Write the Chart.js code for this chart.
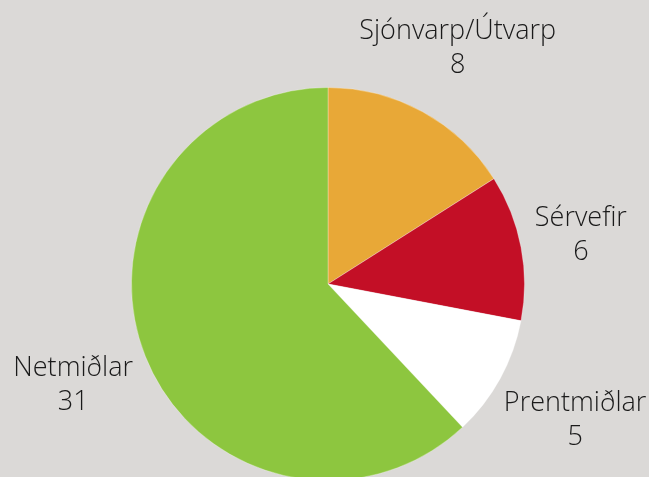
<!DOCTYPE html>
<html>
<head>
<meta charset="utf-8">
<script src="https://cdn.jsdelivr.net/npm/chart.js@4"></script>
<style>
  html, body { margin: 0; padding: 0; background: #dbd9d7; overflow: hidden; }
  #wrap { width: 649px; height: 477px; overflow: hidden; }
</style>
</head>
<body>
<div id="wrap">
  <canvas id="pie" width="649" height="568"></canvas>
</div>
<script>
// pie data
const labels = ['Sjónvarp/Útvarp', 'Sérvefir', 'Prentmiðlar', 'Netmiðlar'];
const values = [8, 6, 5, 31];
const colors = ['#e8a837', '#c30f26', '#ffffff', '#8dc63f'];

// draws "name / value" outside each slice, pushed out along the slice's mid angle
const outsideLabels = {
  id: 'outsideLabels',
  afterDatasetsDraw(chart, args, opts) {
    const ctx = chart.ctx;
    const meta = chart.getDatasetMeta(0);
    ctx.save();
    ctx.font = '300 27px "Open Sans"';
    ctx.fillStyle = '#1a1a1a';
    ctx.textAlign = 'center';
    ctx.textBaseline = 'middle';
    meta.data.forEach((arc, i) => {
      const mid = (arc.startAngle + arc.endAngle) / 2;
      const r = arc.outerRadius * opts.reach[i];
      const x = arc.x + Math.cos(mid) * r;
      const y = arc.y + Math.sin(mid) * r;
      ctx.fillText(labels[i], x, y - 17);
      ctx.fillText(String(values[i]), x, y + 17);
    });
    ctx.restore();
  }
};

new Chart(document.getElementById('pie'), {
  type: 'pie',
  data: {
    labels: labels,
    datasets: [{
      data: values,
      backgroundColor: colors,
      borderColor: 'rgba(255,255,255,0.3)',
      borderWidth: 1
    }]
  },
  options: {
    responsive: false,
    animation: false,
    devicePixelRatio: 1,
    layout: { padding: { left: 131, right: 124, top: 87, bottom: 87 } },
    plugins: {
      legend: { display: false },
      tooltip: { enabled: false },
      outsideLabels: { reach: [1.37, 1.31, 1.435, 1.395] }
    }
  },
  plugins: [outsideLabels]
});
</script>
</body>
</html>
